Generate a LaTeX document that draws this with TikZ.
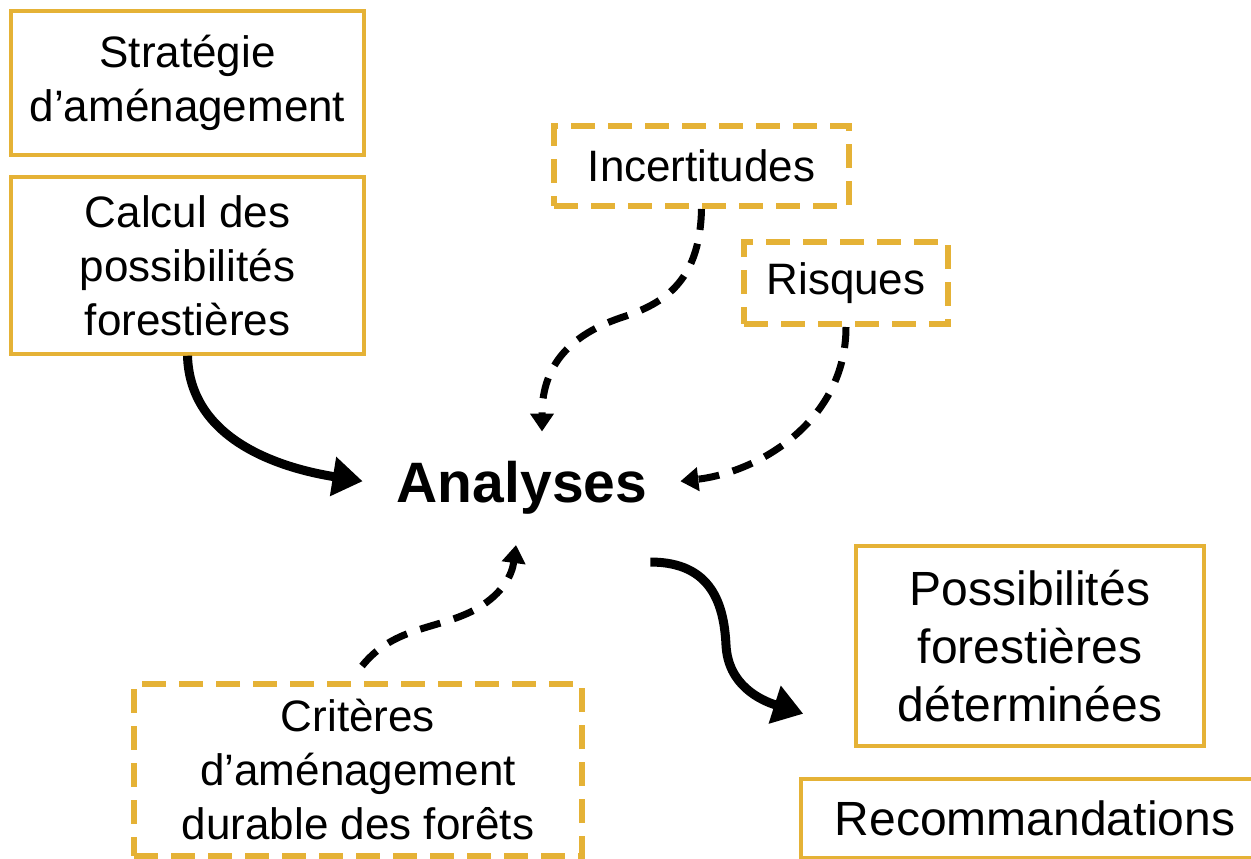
\documentclass[tikz,border=0pt]{standalone}
\usepackage{fontspec}
\setmainfont{Liberation Sans}
\usetikzlibrary{arrows.meta,calc}
\definecolor{gold}{RGB}{229,178,54}
\begin{document}
\begin{tikzpicture}[x=1pt,y=-1pt,
  solidbox/.style={draw=gold, line width=3.5pt, align=center, inner sep=0pt},
  dashbox/.style={draw=gold, line width=6pt, dash pattern=on 24pt off 13pt, align=center, inner sep=0pt},
  tsmall/.style={font=\fontsize{44}{54}\selectfont},
  tlarge/.style={font=\fontsize{48}{58}\selectfont},
  bigarrow/.style={line width=9pt, -{Triangle[length=30pt,width=38pt]}},
  dasharrow/.style={line width=7pt, dash pattern=on 21pt off 14pt, -{Triangle[length=18pt,width=23pt]}}]
\useasboundingbox (0,0) rectangle (1251,859);
\clip (0,0) rectangle (1251,859);

\node[solidbox,tsmall,minimum width=353pt,minimum height=144pt] (strat) at (187.5,83) {Stratégie\\d’aménagement};
\node[solidbox,tsmall,minimum width=353pt,minimum height=177pt] (calc) at (187.5,265.5) {Calcul des\\possibilités\\forestières};
\node[dashbox,tsmall,minimum width=295pt,minimum height=80pt] (incert) at (701.5,166) {Incertitudes};
\node[dashbox,tsmall,minimum width=204pt,minimum height=82pt] (risk) at (846,283) {Risques};
\node[inner sep=0pt,anchor=base,font=\fontsize{57}{60}\selectfont\bfseries] (ana) at (522,502) {Analyses};
\node[solidbox,tlarge,minimum width=348pt,minimum height=200pt] (poss) at (1030,646) {Possibilités\\forestières\\déterminées};
\node[solidbox,tlarge,minimum width=468pt,minimum height=79pt] (reco) at (1035,818.5) {Recommandations};
\node[dashbox,tsmall,minimum width=448pt,minimum height=172pt] (crit) at (358,770) {Critères\\d’aménagement\\durable des forêts};

\draw[bigarrow] (calc.south) .. controls (190,440) and (280,468) .. ($(ana.west)+(-34,-6)$);
\draw[bigarrow] ($(ana.south east)+(3,48)$) .. controls (712,562) and (724,605) .. (726,645)
  .. controls (728,685) and (760,700) .. ($(poss.south west)+(-51,-34)$);

\draw[dasharrow] (incert.south) .. controls (700,285) and (660,305) .. (620,318)
  .. controls (565,337) and (542,370) .. ($(ana.north)+(20,-29)$);
\draw[dasharrow] (risk.south) .. controls (846,420) and (760,472) .. ($(ana.east)+(33,-6)$);
\draw[dasharrow] ($(crit.north)+(4,-15)$) .. controls (395,625) and (440,630) .. (478,608)
  .. controls (503,593) and (512,575) .. ($(ana.south)+(-6,31)$);
\end{tikzpicture}
\end{document}
